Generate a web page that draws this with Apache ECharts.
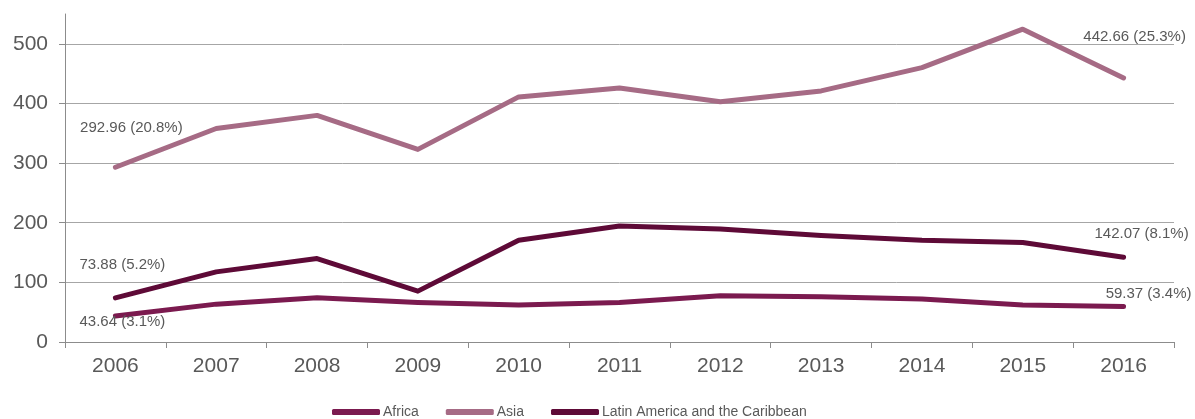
<!DOCTYPE html>
<html>
<head>
<meta charset="utf-8">
<script src="https://cdn.jsdelivr.net/npm/echarts@6/dist/echarts.min.js"></script>
<style>
  html, body { margin: 0; padding: 0; background: #fff; }
  #chart { width: 1195px; height: 419px; }
</style>
</head>
<body>
<div id="chart"></div>
<script>
// data
const years = ['2006', '2007', '2008', '2009', '2010', '2011', '2012', '2013', '2014', '2015', '2016']
const africa = [43.64, 63.5, 74, 66.4, 61.9, 66.4, 77.4, 75.8, 72, 62, 59.37]
const asia = [292.96, 358, 380, 323, 411, 426, 403, 421, 460, 524.5, 442.66]
const latam = [73.88, 117.6, 140, 85.3, 170.6, 194.5, 189.5, 178.4, 170.6, 166.7, 142.07]
const seriesNames = ['Africa', 'Asia', 'Latin America and the Caribbean']
const endLabels = {
  Africa: ['43.64 (3.1%)', '59.37 (3.4%)'],
  Asia: ['292.96 (20.8%)', '442.66 (25.3%)'],
  'Latin America and the Caribbean': ['73.88 (5.2%)', '142.07 (8.1%)'],
}

const colors = ['#7b1a4f', '#a66b85', '#5e0a37']
const labelOffsets = {
  Africa: [[7, 6], [25, -13]],
  Asia: [[16, -39], [11, -41]],
  'Latin America and the Caribbean': [[7, -33], [18, -23]],
}

function withLabels(name, values) {
  return values.map((v, i) => {
    if (i === 0 || i === values.length - 1) {
      const k = i === 0 ? 0 : 1
      return {
        value: v,
        label: {
          show: true,
          position: 'inside',
          offset: labelOffsets[name][k],
          formatter: endLabels[name][k],
          color: '#595959',
          fontSize: 15,
          fontFamily: 'Liberation Sans',
        },
      }
    }
    return v
  })
}

const chart = echarts.init(document.getElementById('chart'))
const seriesData = [africa, asia, latam]

chart.setOption({
  animation: false,
  color: colors,
  grid: { left: 65, right: 21, top: 14, bottom: 77 },
  legend: {
    top: 400,
    left: 327,
    icon: 'roundRect',
    itemWidth: 48,
    itemHeight: 6,
    itemGap: 27,
    textStyle: { color: '#595959', fontSize: 14, fontFamily: 'Liberation Sans', padding: [0, 0, 0, -2] },
    data: seriesNames,
  },
  xAxis: {
    type: 'category',
    data: years,
    boundaryGap: true,
    axisLine: { lineStyle: { color: '#8c8c8c', width: 1 } },
    axisTick: { show: true, length: 6, lineStyle: { color: '#8c8c8c' } },
    axisLabel: { color: '#595959', fontSize: 21, fontFamily: 'Liberation Sans', margin: 14 },
  },
  yAxis: {
    type: 'value',
    min: 0,
    max: 550,
    interval: 100,
    axisLine: { show: true, lineStyle: { color: '#8c8c8c', width: 1 } },
    axisTick: { show: true, length: 6, lineStyle: { color: '#8c8c8c' } },
    axisLabel: { color: '#595959', fontSize: 21, fontFamily: 'Liberation Sans', margin: 17, showMaxLabel: false },
    splitLine: { show: true, showMaxLine: false, lineStyle: { color: '#a6a6a6', width: 1 } },
  },
  series: seriesNames.map((name, i) => ({
    name: name,
    type: 'line',
    data: withLabels(name, seriesData[i]),
    symbol: 'circle',
    symbolSize: 0,
    showSymbol: true,
    lineStyle: { width: 5, cap: 'round', join: 'round' },
    z: i === 1 ? 2 : 3,
  })),
})
</script>
</body>
</html>
